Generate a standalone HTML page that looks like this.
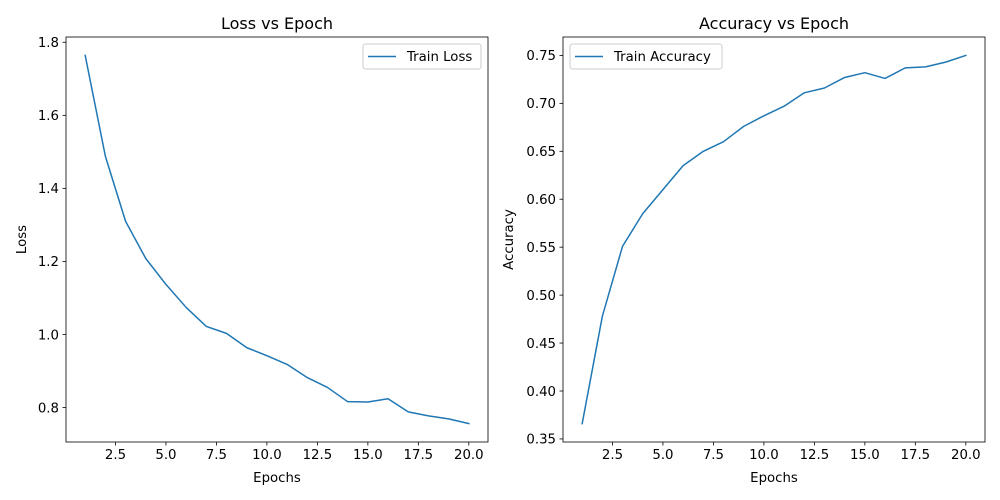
<!DOCTYPE html>
<html><head><meta charset="utf-8"><style>
body{margin:0;background:#fff}
svg{display:block;font-family:"DejaVu Sans","Liberation Sans",sans-serif}
</style></head><body>
<svg id="fig" width="1000" height="500" viewBox="0 0 1000 500"></svg>
<script>
const epochs=[1,2,3,4,5,6,7,8,9,10,11,12,13,14,15,16,17,18,19,20];
const lossValues=[1.764,1.488,1.310,1.208,1.137,1.074,1.022,1.003,0.964,0.942,0.918,0.882,0.855,0.816,0.815,0.824,0.788,0.777,0.769,0.756];
const accValues=[0.366,0.478,0.551,0.585,0.610,0.635,0.650,0.660,0.676,0.687,0.697,0.711,0.716,0.727,0.732,0.726,0.737,0.738,0.743,0.750];
const xTicks=[2.5,5.0,7.5,10.0,12.5,15.0,17.5,20.0];
const xTickLabels=["2.5","5.0","7.5","10.0","12.5","15.0","17.5","20.0"];
const lossTicks=[0.8,1.0,1.2,1.4,1.6,1.8];
const lossTickLabels=["0.8","1.0","1.2","1.4","1.6","1.8"];
const accTicks=[0.35,0.40,0.45,0.50,0.55,0.60,0.65,0.70,0.75];
const accTickLabels=["0.35","0.40","0.45","0.50","0.55","0.60","0.65","0.70","0.75"];

const NS="http://www.w3.org/2000/svg";
const svg=document.getElementById('fig');
function mk(tag,attrs,parent){const e=document.createElementNS(NS,tag);for(const k in attrs)e.setAttribute(k,attrs[k]);(parent||svg).appendChild(e);return e;}

function panel(o){
  const g=mk('g',{});
  
  
  const L=o.x0,R=o.x1,T=37,B=442;
  const xmin=Math.min(...epochs),xmax=Math.max(...epochs),xp=(xmax-xmin)*0.05;
  const ymin=Math.min(...o.vals),ymax=Math.max(...o.vals),yp=(ymax-ymin)*0.05;
  const sx=v=>L+(v-(xmin-xp))/((xmax+xp)-(xmin-xp))*(R-L);
  const sy=v=>B-(v-(ymin-yp))/((ymax+yp)-(ymin-yp))*(B-T);
  // ticks x
  xTicks.forEach((t,i)=>{
    const x=sx(t);
    const tl=mk('line',{x1:x,x2:x,y1:B,y2:B+3.5,stroke:'#000','stroke-width':0.8},g);
    
    
    const tx=mk('text',{x:x,y:B+17,'text-anchor':'middle','font-size':'13.3'},g);
    
    
    tx.textContent=xTickLabels[i];
  });
  o.ticks.forEach((t,i)=>{
    const y=sy(t);
    const tl=mk('line',{x1:L-3.5,x2:L,y1:y,y2:y,stroke:'#000','stroke-width':0.8},g);
    
    
    const tx=mk('text',{x:L-7,y:y+4.8,'text-anchor':'end','font-size':'13.3'},g);
    
    
    tx.textContent=o.tickLabels[i];
  });
  const line=mk('polyline',{points:epochs.map((e,i)=>sx(e).toFixed(2)+','+sy(o.vals[i]).toFixed(2)).join(' '),fill:'none',stroke:'#1f77b4','stroke-width':1.5,'stroke-linejoin':'round','stroke-linecap':'square'},g);
  
  
  const fr=mk('rect',{x:L,y:T,width:R-L,height:B-T,fill:'none',stroke:'#000','stroke-width':0.8},g);
  
  
  const ti=mk('text',{x:(L+R)/2,y:T-8,'text-anchor':'middle','font-size':'16'},g);
  
  
  ti.textContent=o.title;
  const xl=mk('text',{x:(L+R)/2,y:482,'text-anchor':'middle','font-size':'13.3'},g);
  
  
  xl.textContent='Epochs';
  const yx=o.ylabX,yy=(T+B)/2;
  const yl=mk('text',{x:yx,y:yy,'text-anchor':'middle','font-size':'13.3',transform:`rotate(-90 ${yx} ${yy})`},g);
  
  
  yl.textContent=o.ylab;
  // legend
  const lg=mk('g',{},g);
  
  
  mk('rect',{x:o.lx,y:44,width:o.lw,height:25,rx:2.5,fill:'#fff',stroke:'#ccc','stroke-width':1},lg);
  mk('line',{x1:o.lx+5,x2:o.lx+33,y1:56.5,y2:56.5,stroke:'#1f77b4','stroke-width':1.5},lg);
  const lt=mk('text',{x:o.lx+44,y:61,'font-size':'13.3'},lg);
  
  
  lt.textContent=o.seriesLabel;
}
panel({name:'loss-panel',x0:66,x1:488,vals:lossValues,ticks:lossTicks,tickLabels:lossTickLabels,title:'Loss vs Epoch',ylab:'Loss',ylabX:26,lx:363,lw:118,seriesLabel:'Train Loss',seriesName:'train-loss-line'});
panel({name:'accuracy-panel',x0:563,x1:985,vals:accValues,ticks:accTicks,tickLabels:accTickLabels,title:'Accuracy vs Epoch',ylab:'Accuracy',ylabX:513,lx:570,lw:152,seriesLabel:'Train Accuracy',seriesName:'train-accuracy-line'});
</script>
</body></html>
